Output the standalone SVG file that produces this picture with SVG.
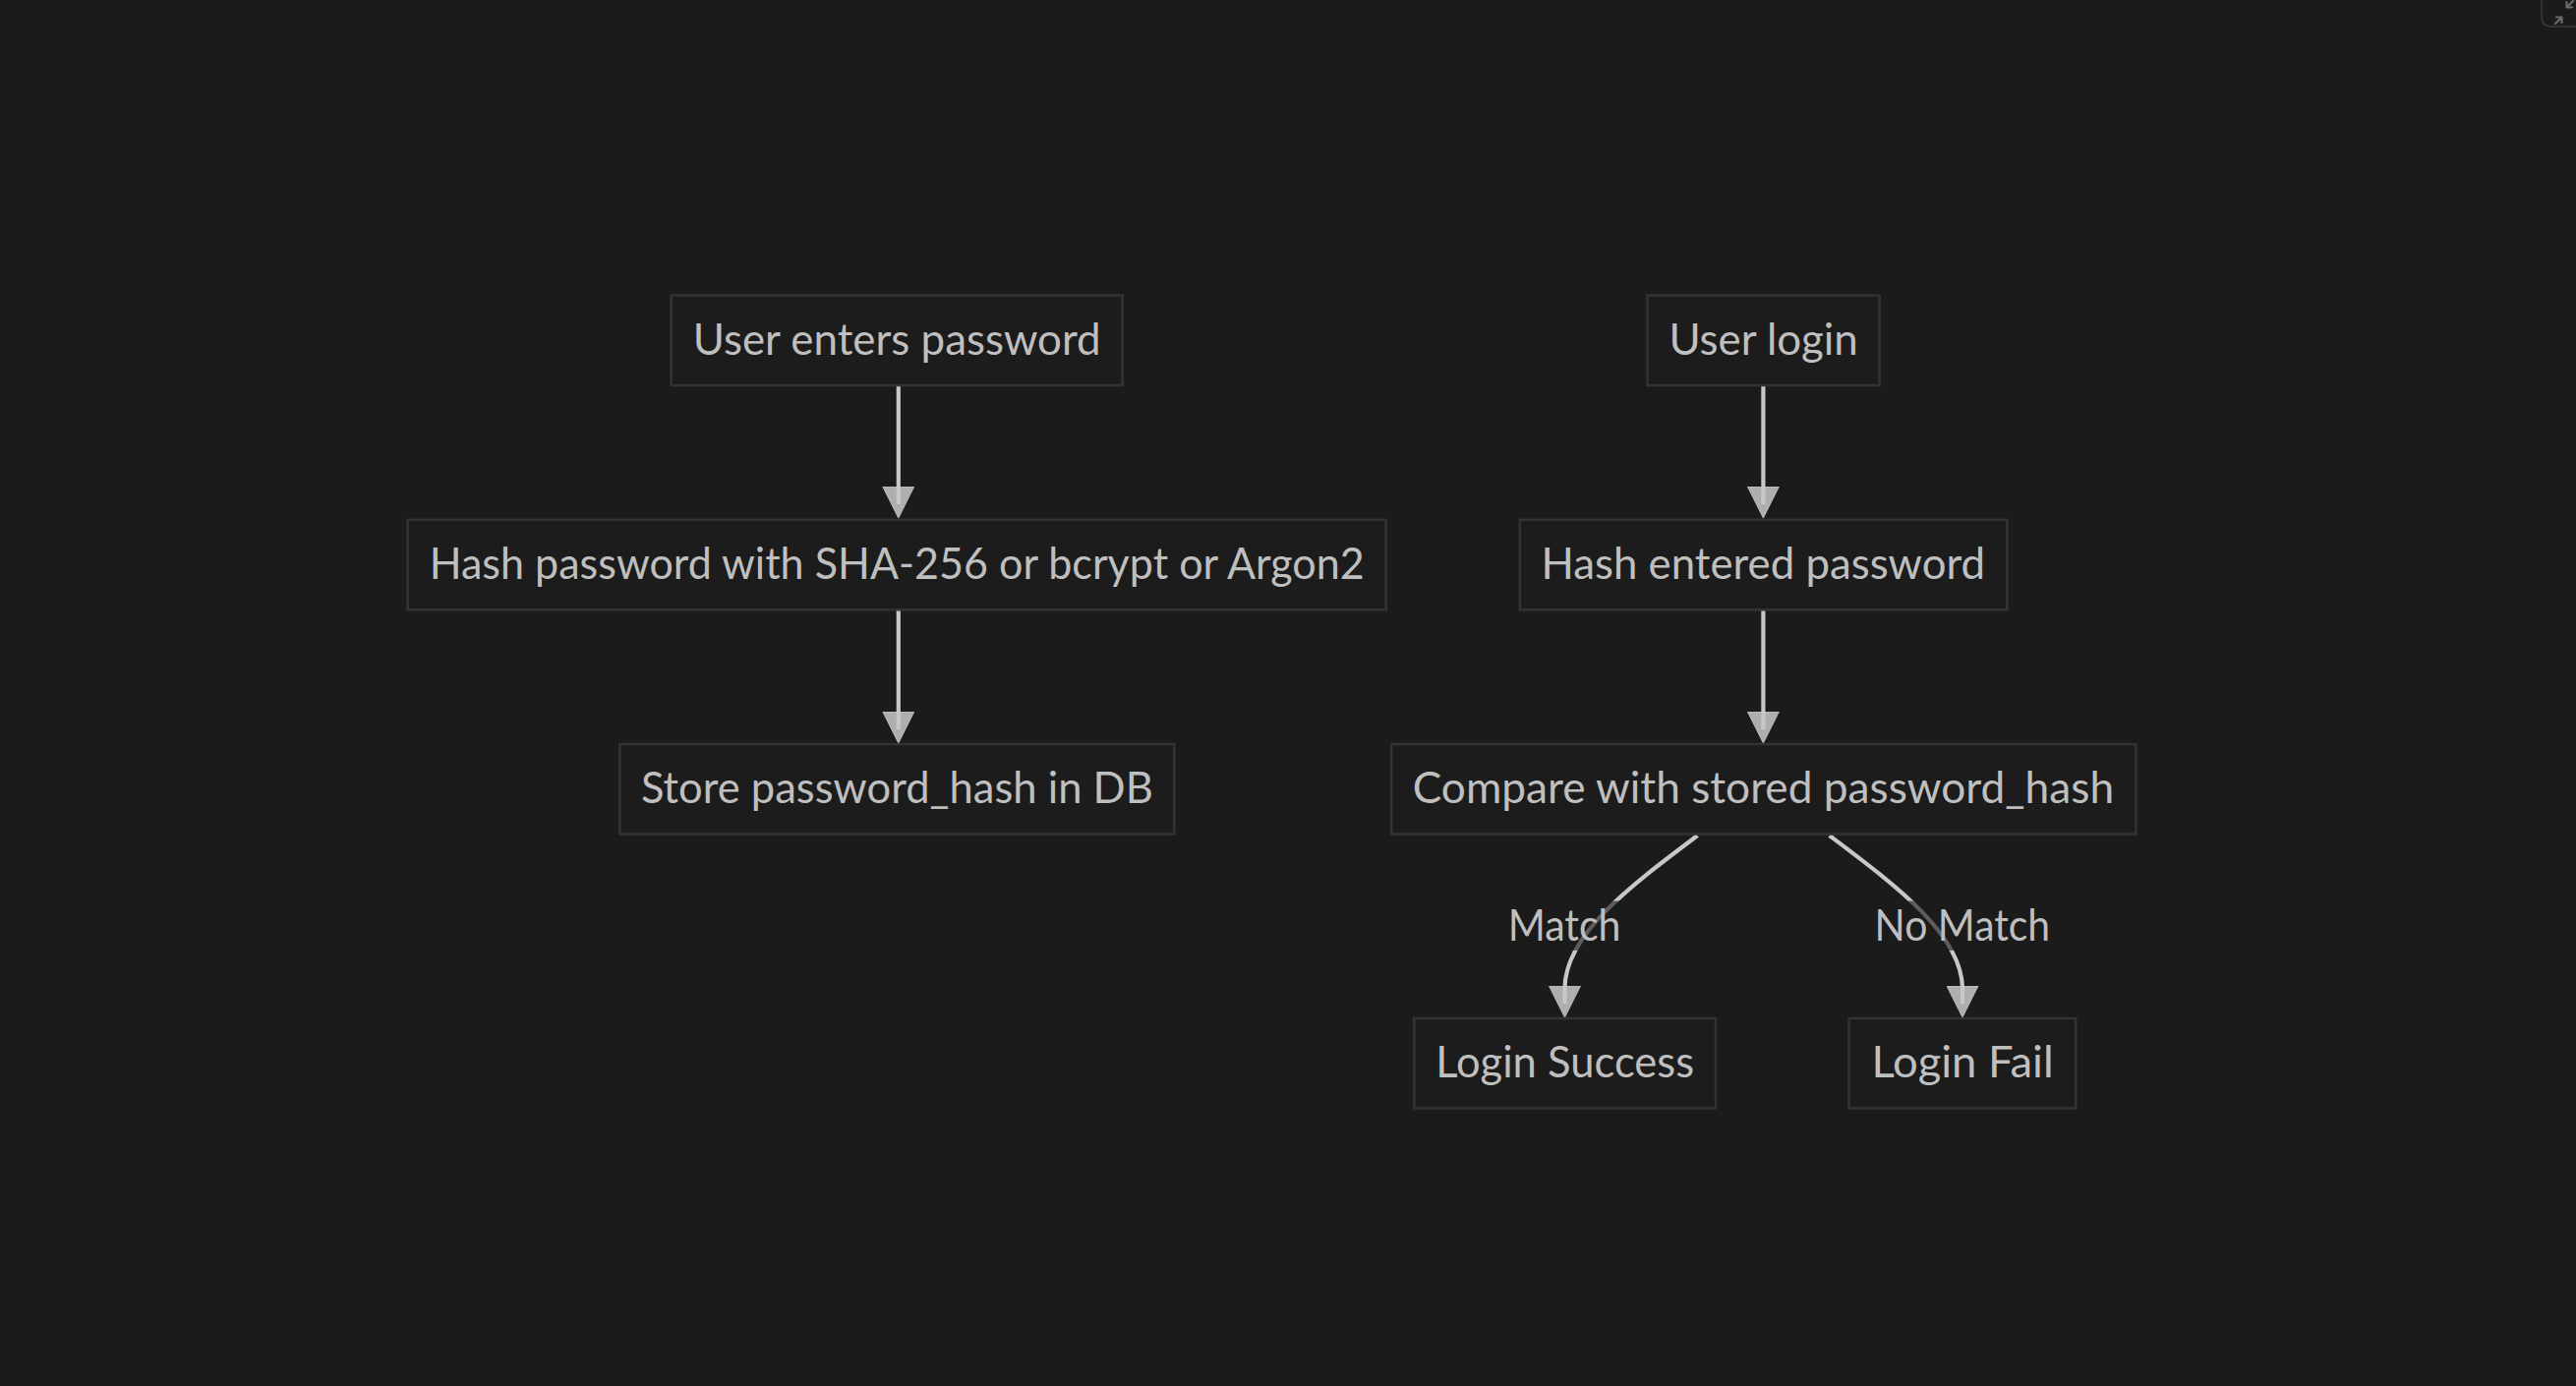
<svg xmlns="http://www.w3.org/2000/svg" width="2620" height="1410" viewBox="0 0 2620 1410">
<style>
.bg{fill:#1b1b1b}
.node rect{fill:#1c1c1c;stroke:#333333;stroke-width:2.5}
text{font-family:Lato,"Open Sans","DejaVu Sans",sans-serif;font-size:44px;fill:#bfbfbf;text-anchor:middle}
.edge{fill:none;stroke:#c8c8c8;stroke-width:4.2;marker-end:url(#arrow)}
.lblbg{fill:#1b1b1b;opacity:0.62}
.ui{fill:none;stroke:#3a3a3a;stroke-width:1.5}
.icon{fill:none;stroke:#6a6a6a;stroke-width:2.2;stroke-linecap:round;stroke-linejoin:round}
</style>
<defs>
<marker id="arrow" viewBox="0 0 10 10" refX="5.6" refY="5" markerWidth="32" markerHeight="33" markerUnits="userSpaceOnUse" orient="auto">
<path d="M0,0 L10,5 L0,10 z" fill="#c8c8c8" fill-opacity="0.85" stroke="#c8c8c8" stroke-opacity="0.85" stroke-width="0.3"/>
</marker>
</defs>
<rect class="bg" x="0" y="0" width="2620" height="1410"/>
<g id="ui-corner">
<rect class="ui" x="2585" y="-30" width="80" height="57" rx="9"/>
<path class="icon" d="M2599,24 L2605.5,17.5 M2600,17.5 L2605.5,17.5 L2605.5,23"/>
<path class="icon" d="M2617,1 L2610.5,7.5 M2616,7.5 L2610.5,7.5 L2610.5,2"/>
</g>
<g id="connectors">
<path class="edge" d="M913.8,392 L913.8,513"/>
<path class="edge" d="M913.8,620.5 L913.8,742"/>
<path class="edge" d="M1793.4,392 L1793.4,513"/>
<path class="edge" d="M1793.4,620.5 L1793.4,742"/>
<path class="edge" d="M1726.5,850 C1660,900 1592,950 1591.5,1005 L1591.5,1021"/>
<path class="edge" d="M1860.7,850 C1927,900 1995,950 1996,1005 L1996,1021"/>
<g id="label-match">
<rect class="lblbg" x="1533" y="916.5" width="116" height="50.5"/>
<text x="1591.1" y="956.7" textLength="114.8" lengthAdjust="spacingAndGlyphs">Match</text>
</g>
<g id="label-nomatch">
<rect class="lblbg" x="1906" y="916.5" width="180" height="50.5"/>
<text x="1995.9" y="956.7" textLength="178.6" lengthAdjust="spacingAndGlyphs">No Match</text>
</g>
</g>
<g id="A" class="node">
<rect x="682.7" y="300.5" width="459" height="91.5"/>
<text x="912.2" y="360.5" textLength="415" lengthAdjust="spacingAndGlyphs">User enters password</text>
</g>
<g id="B" class="node">
<rect x="414.7" y="528.8" width="995" height="91.5"/>
<text x="912.2" y="588.9" textLength="951" lengthAdjust="spacingAndGlyphs">Hash password with SHA-256 or bcrypt or Argon2</text>
</g>
<g id="C" class="node">
<rect x="630.3" y="757" width="564" height="91.5"/>
<text x="912.4" y="816.6" textLength="521" lengthAdjust="spacingAndGlyphs">Store password_hash in DB</text>
</g>
<g id="D" class="node">
<rect x="1675.5" y="300.5" width="236.2" height="91.5"/>
<text x="1793.6" y="360.5" textLength="192.4" lengthAdjust="spacingAndGlyphs">User login</text>
</g>
<g id="E" class="node">
<rect x="1545.9" y="528.8" width="495.4" height="91.5"/>
<text x="1793.3" y="588.9" textLength="451.6" lengthAdjust="spacingAndGlyphs">Hash entered password</text>
</g>
<g id="F" class="node">
<rect x="1415.3" y="757" width="757.1" height="91.5"/>
<text x="1793.4" y="816.6" textLength="713.3" lengthAdjust="spacingAndGlyphs">Compare with stored password_hash</text>
</g>
<g id="G" class="node">
<rect x="1438.3" y="1036" width="306.7" height="91.5"/>
<text x="1591.6" y="1095.9" textLength="262.8" lengthAdjust="spacingAndGlyphs">Login Success</text>
</g>
<g id="H" class="node">
<rect x="1880.6" y="1036" width="230.6" height="91.5"/>
<text x="1996" y="1095.9" textLength="185.2" lengthAdjust="spacingAndGlyphs">Login Fail</text>
</g>
</svg>
